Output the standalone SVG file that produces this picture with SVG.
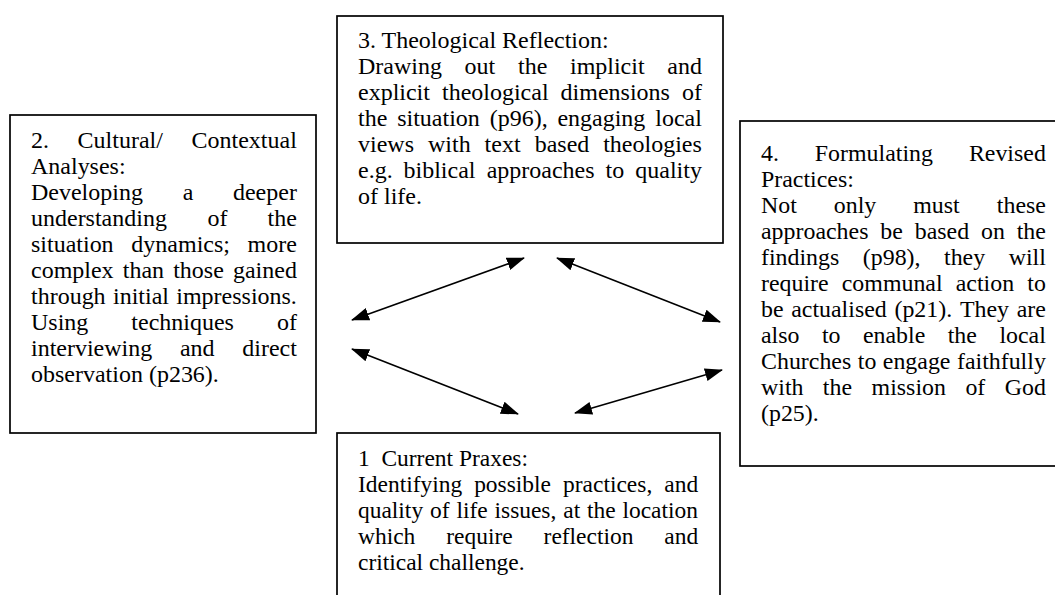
<svg xmlns="http://www.w3.org/2000/svg" width="1055" height="595" viewBox="0 0 1055 595">
<style>
.box{fill:#fff;stroke:#000;stroke-width:1.7}
.t{font-family:"Liberation Serif","Times New Roman",serif;font-size:22.6px;fill:#000}
.con{stroke:#000;stroke-width:1.6;fill:none;marker-start:url(#ah);marker-end:url(#ah)}
</style>
<defs>
<marker id="ah" viewBox="0 0 18 13" refX="17" refY="6.5" markerWidth="18" markerHeight="13" markerUnits="userSpaceOnUse" orient="auto-start-reverse"><path d="M0,0 L18,6.5 L0,13 z" fill="#000"/></marker>
</defs>
<rect width="1055" height="595" fill="#fff"/>
<g id="node3">
<rect class="box" x="337" y="16" width="386" height="227"/>
<g transform="translate(358 0) scale(1.062 1)">
<text class="t" y="48" x="0">3. Theological Reflection:</text>
<text class="t" y="74"><tspan x="0">Drawing</tspan><tspan x="100.4">out</tspan><tspan x="150.7">the</tspan><tspan x="199.6">implicit</tspan><tspan x="291.2">and</tspan></text>
<text class="t" y="100"><tspan x="0">explicit</tspan><tspan x="79.1">theological</tspan><tspan x="190.8">dimensions</tspan><tspan x="305">of</tspan></text>
<text class="t" y="126"><tspan x="0">the</tspan><tspan x="36.9">situation</tspan><tspan x="124">(p96),</tspan><tspan x="187.8">engaging</tspan><tspan x="279.9">local</tspan></text>
<text class="t" y="152"><tspan x="0">views</tspan><tspan x="65.9">with</tspan><tspan x="119.2">text</tspan><tspan x="166.4">based</tspan><tspan x="230.9">theologies</tspan></text>
<text class="t" y="178"><tspan x="0">e.g.</tspan><tspan x="42.9">biblical</tspan><tspan x="121.2">approaches</tspan><tspan x="233.1">to</tspan><tspan x="261.1">quality</tspan></text>
<text class="t" y="204" x="0">of life.</text>
</g>
</g>
<g id="node2">
<rect class="box" x="10" y="115" width="306" height="318"/>
<g transform="translate(31 0) scale(1.062 1)">
<text class="t" y="148"><tspan x="0">2.</tspan><tspan x="43.9">Cultural/</tspan><tspan x="151.2">Contextual</tspan></text>
<text class="t" y="174" x="0">Analyses:</text>
<text class="t" y="200"><tspan x="0">Developing</tspan><tspan x="142.8">a</tspan><tspan x="190.2">deeper</tspan></text>
<text class="t" y="226"><tspan x="0">understanding</tspan><tspan x="166.1">of</tspan><tspan x="222.8">the</tspan></text>
<text class="t" y="252"><tspan x="0">situation</tspan><tspan x="94.5">dynamics;</tspan><tspan x="203.9">more</tspan></text>
<text class="t" y="278"><tspan x="0">complex</tspan><tspan x="86.4">than</tspan><tspan x="133.9">those</tspan><tspan x="190.2">gained</tspan></text>
<text class="t" y="304"><tspan x="0">through</tspan><tspan x="77.2">initial</tspan><tspan x="136.8">impressions.</tspan></text>
<text class="t" y="330"><tspan x="0">Using</tspan><tspan x="94.5">techniques</tspan><tspan x="231.6">of</tspan></text>
<text class="t" y="356"><tspan x="0">interviewing</tspan><tspan x="140.2">and</tspan><tspan x="199">direct</tspan></text>
<text class="t" y="382" x="0">observation (p236).</text>
</g>
</g>
<g id="node4">
<rect class="box" x="740" y="121" width="320" height="345"/>
<g transform="translate(761 0) scale(1.0574 1)">
<text class="t" y="161"><tspan x="0">4.</tspan><tspan x="50.9">Formulating</tspan><tspan x="196.6">Revised</tspan></text>
<text class="t" y="187" x="0">Practices:</text>
<text class="t" y="213"><tspan x="0">Not</tspan><tspan x="68.9">only</tspan><tspan x="144">must</tspan><tspan x="223">these</tspan></text>
<text class="t" y="239"><tspan x="0">approaches</tspan><tspan x="112.9">be</tspan><tspan x="145.4">based</tspan><tspan x="208">on</tspan><tspan x="241.8">the</tspan></text>
<text class="t" y="265"><tspan x="0">findings</tspan><tspan x="96.3">(p98),</tspan><tspan x="173.1">they</tspan><tspan x="234.2">will</tspan></text>
<text class="t" y="291"><tspan x="0">require</tspan><tspan x="76.4">communal</tspan><tspan x="184.2">action</tspan><tspan x="251.8">to</tspan></text>
<text class="t" y="317"><tspan x="0">be</tspan><tspan x="28.6">actualised</tspan><tspan x="126.2">(p21).</tspan><tspan x="188.1">They</tspan><tspan x="241.8">are</tspan></text>
<text class="t" y="343"><tspan x="0">also</tspan><tspan x="57.6">to</tspan><tspan x="96.4">enable</tspan><tspan x="176.6">the</tspan><tspan x="225.5">local</tspan></text>
<text class="t" y="369"><tspan x="0">Churches</tspan><tspan x="91.5">to</tspan><tspan x="115.2">engage</tspan><tspan x="185.3">faithfully</tspan></text>
<text class="t" y="395"><tspan x="0">with</tspan><tspan x="58.5">the</tspan><tspan x="104.6">mission</tspan><tspan x="193.3">of</tspan><tspan x="230.5">God</tspan></text>
<text class="t" y="421" x="0">(p25).</text>
</g>
</g>
<g id="node1">
<rect class="box" x="337" y="433" width="383" height="170"/>
<g transform="translate(358 0) scale(1.038 1)">
<text class="t" y="466"><tspan x="0">1</tspan><tspan x="22.6">Current Praxes:</tspan></text>
<text class="t" y="492"><tspan x="0">Identifying</tspan><tspan x="111.9">possible</tspan><tspan x="197.6">practices,</tspan><tspan x="295.1">and</tspan></text>
<text class="t" y="518"><tspan x="0">quality</tspan><tspan x="69.4">of</tspan><tspan x="94.8">life</tspan><tspan x="131.5">issues,</tspan><tspan x="197.8">at</tspan><tspan x="220.7">the</tspan><tspan x="254.8">location</tspan></text>
<text class="t" y="544"><tspan x="0">which</tspan><tspan x="85">require</tspan><tspan x="178.8">reflection</tspan><tspan x="295.1">and</tspan></text>
<text class="t" y="570" x="0">critical challenge.</text>
</g>
</g>
<g id="connectors">
<line class="con" x1="352" y1="320" x2="524" y2="258"/>
<line class="con" x1="557" y1="258" x2="720" y2="322"/>
<line class="con" x1="352" y1="349" x2="518" y2="414"/>
<line class="con" x1="575" y1="413" x2="722" y2="370"/>
</g>
</svg>
